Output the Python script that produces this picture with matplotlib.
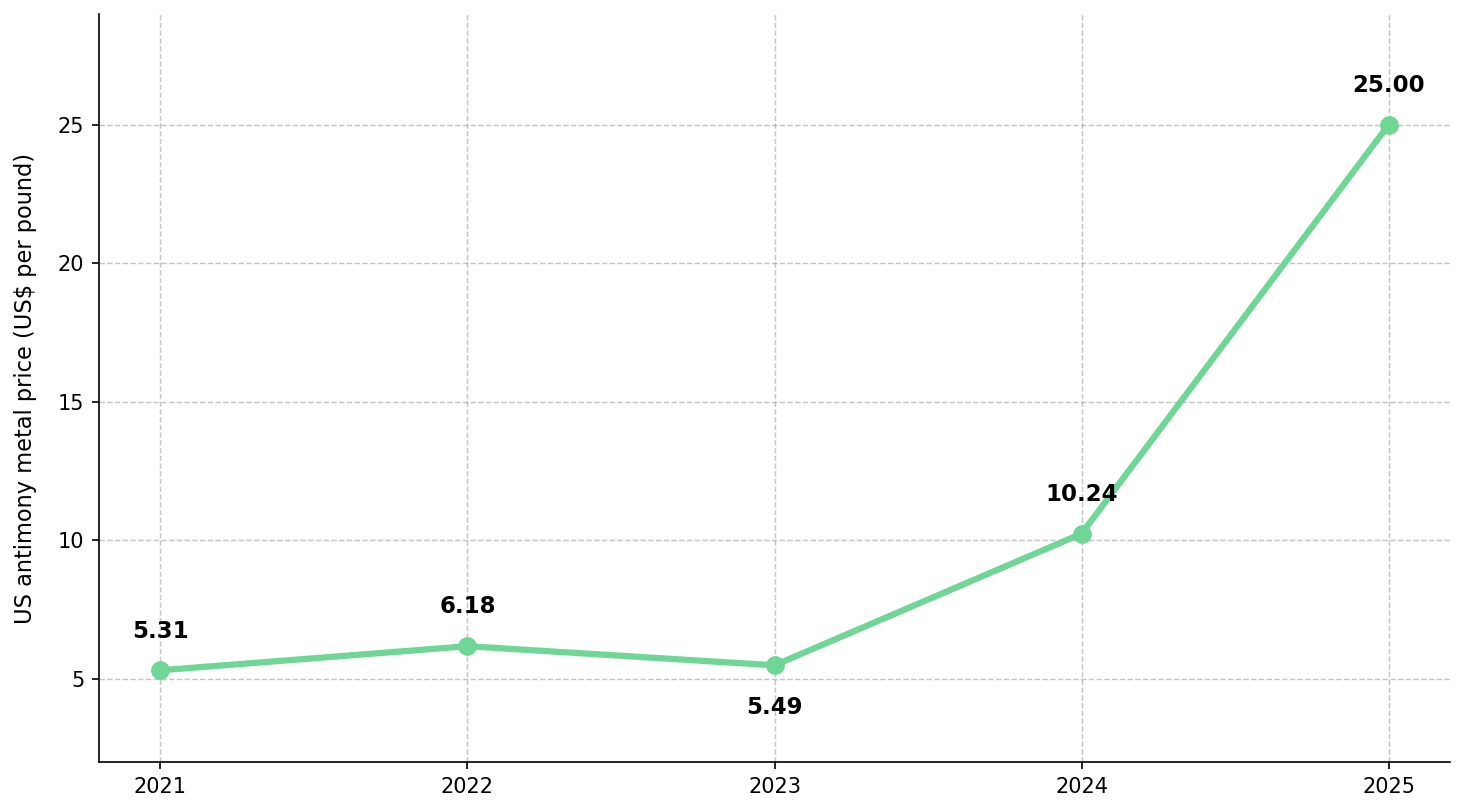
import matplotlib
matplotlib.use("Agg")
import matplotlib.pyplot as plt

years = [2021, 2022, 2023, 2024, 2025]
prices = [5.31, 6.18, 5.49, 10.24, 25.00]
ylabel = "US antimony metal price (US$ per pound)"

line_color = "#6fd696"

fig = plt.figure(figsize=(1465 / 150, 812 / 150), dpi=150)
ax = fig.add_axes([99 / 1465, 50 / 812, 1351 / 1465, 748 / 812])

ax.plot(years, prices, color=line_color, linewidth=3, marker="o", markersize=8)

for i, (x, y) in enumerate(zip(years, prices)):
    # dips get their label underneath
    dip = 0 < i < len(prices) - 1 and y < prices[i - 1] and y < prices[i + 1]
    if dip:
        ax.text(x, y - 1.1, f"{y:.2f}", ha="center", va="top", fontsize=11, fontweight="bold")
    else:
        ax.text(x, y + 1, f"{y:.2f}", ha="center", va="bottom", fontsize=11, fontweight="bold")

ax.set_xlim(2020.8, 2025.2)
ax.set_ylim(2, 29)
ax.set_xticks(years)
ax.set_yticks([5, 10, 15, 20, 25])
ax.set_ylabel(ylabel, fontsize=10.8, labelpad=10)
ax.tick_params(labelsize=10)

ax.grid(True, linestyle="--", color="gray", alpha=0.45, linewidth=0.7)
ax.spines["top"].set_visible(False)
ax.spines["right"].set_visible(False)

fig.savefig("out.png", dpi=150)
